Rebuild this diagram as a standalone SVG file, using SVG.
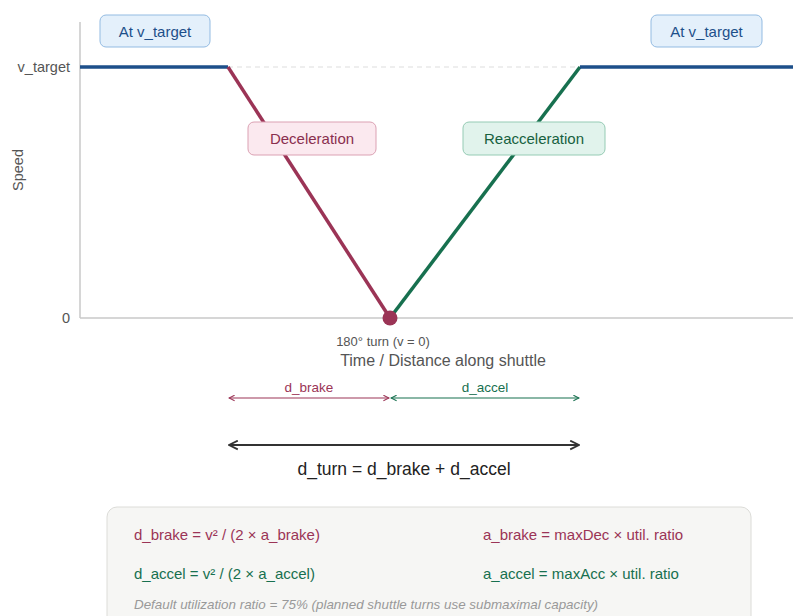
<svg xmlns="http://www.w3.org/2000/svg" width="793" height="616" viewBox="0 0 793 616">
<style>
text{font-family:"Liberation Sans",Arial,sans-serif}
.ax{stroke:#c8c8c8;stroke-width:1.5;fill:none}
.tick{font-size:14.5px;fill:#555}
.lbl{font-size:15px;text-anchor:middle;dominant-baseline:central}
.blue{stroke:#1d4f8a;stroke-width:3.5;fill:none}
.red{stroke:#9b3456;stroke-width:3.5;fill:none}
.grn{stroke:#17704f;stroke-width:3.5;fill:none}
.fr{fill:#9b3456}.fg{fill:#17704f}
.f{font-size:15px}
</style>
<defs>
<marker id="ar" viewBox="0 0 10 10" refX="9" refY="5" markerWidth="7" markerHeight="7" orient="auto-start-reverse" markerUnits="userSpaceOnUse"><path d="M1,1 L9,5 L1,9" fill="none" stroke="#9b3456" stroke-width="1.5"/></marker>
<marker id="ag" viewBox="0 0 10 10" refX="9" refY="5" markerWidth="7" markerHeight="7" orient="auto-start-reverse" markerUnits="userSpaceOnUse"><path d="M1,1 L9,5 L1,9" fill="none" stroke="#17704f" stroke-width="1.5"/></marker>
<marker id="ak" viewBox="0 0 10 10" refX="9" refY="5" markerWidth="11" markerHeight="11" orient="auto-start-reverse" markerUnits="userSpaceOnUse"><path d="M1,1 L9,5 L1,9" fill="none" stroke="#333" stroke-width="1.6"/></marker>
</defs>
<g id="axes">
<line class="ax" x1="80" y1="22" x2="80" y2="318"/>
<line class="ax" x1="80" y1="318" x2="793" y2="318"/>
<line x1="228" y1="67" x2="580" y2="67" stroke="#ddd" stroke-width="1" stroke-dasharray="5,4"/>
<text class="tick" x="70" y="72" text-anchor="end">v_target</text>
<text class="tick" x="70" y="323" text-anchor="end">0</text>
<text class="tick" x="23" y="170" text-anchor="middle" transform="rotate(-90 23 170)" font-size="16">Speed</text>
<text x="383" y="346" text-anchor="middle" font-size="13" fill="#555">180° turn (v = 0)</text>
<text x="443" y="366" text-anchor="middle" font-size="16" fill="#555">Time / Distance along shuttle</text>
</g>
<g id="connectors">
<line class="blue" x1="80" y1="67" x2="228" y2="67"/>
<line class="red" x1="228" y1="67" x2="390" y2="318"/>
<line class="grn" x1="390" y1="318" x2="580" y2="67"/>
<line class="blue" x1="580" y1="67" x2="793" y2="67"/>
<circle cx="390" cy="318" r="7.5" fill="#9b3456"/>
<line x1="229" y1="398" x2="389" y2="398" stroke="#9b3456" stroke-width="1.2" marker-start="url(#ar)" marker-end="url(#ar)"/>
<line x1="391" y1="398" x2="579" y2="398" stroke="#17704f" stroke-width="1.2" marker-start="url(#ag)" marker-end="url(#ag)"/>
<line x1="229" y1="445" x2="579" y2="445" stroke="#333" stroke-width="2" marker-start="url(#ak)" marker-end="url(#ak)"/>
<text x="309" y="392" text-anchor="middle" font-size="13.5" fill="#9b3456">d_brake</text>
<text x="485" y="392" text-anchor="middle" font-size="13.5" fill="#17704f">d_accel</text>
<text x="404" y="475" text-anchor="middle" font-size="17.5" fill="#222">d_turn = d_brake + d_accel</text>
</g>
<g id="n-at1">
<rect x="100" y="15" width="110" height="32" rx="6" fill="#e4f0fb" stroke="#93bbe2"/>
<text class="lbl" x="155" y="31" fill="#1d4f8a">At v_target</text>
</g>
<g id="n-at2">
<rect x="651" y="15" width="111" height="32" rx="6" fill="#e4f0fb" stroke="#93bbe2"/>
<text class="lbl" x="706.5" y="31" fill="#1d4f8a">At v_target</text>
</g>
<g id="n-dec">
<rect x="248" y="122" width="128" height="33" rx="6" fill="#fbe9ef" stroke="#dba1b3"/>
<text class="lbl" x="312" y="138.5" fill="#8a2f4e">Deceleration</text>
</g>
<g id="n-reacc">
<rect x="463" y="122" width="142" height="33" rx="6" fill="#e1f3ec" stroke="#95cbb4"/>
<text class="lbl" x="534" y="138.5" fill="#17613f">Reacceleration</text>
</g>
<g id="formulas">
<rect x="107" y="507" width="644" height="125" rx="10" fill="#f6f6f4" stroke="#dcdcd8"/>
<text class="f fr" x="134" y="540">d_brake = v² / (2 × a_brake)</text>
<text class="f fr" x="483" y="540">a_brake = maxDec × util. ratio</text>
<text class="f fg" x="134" y="579">d_accel = v² / (2 × a_accel)</text>
<text class="f fg" x="483" y="579">a_accel = maxAcc × util. ratio</text>
<text x="134" y="609" font-size="13.4" font-style="italic" fill="#999">Default utilization ratio = 75% (planned shuttle turns use submaximal capacity)</text>
</g>
</svg>
